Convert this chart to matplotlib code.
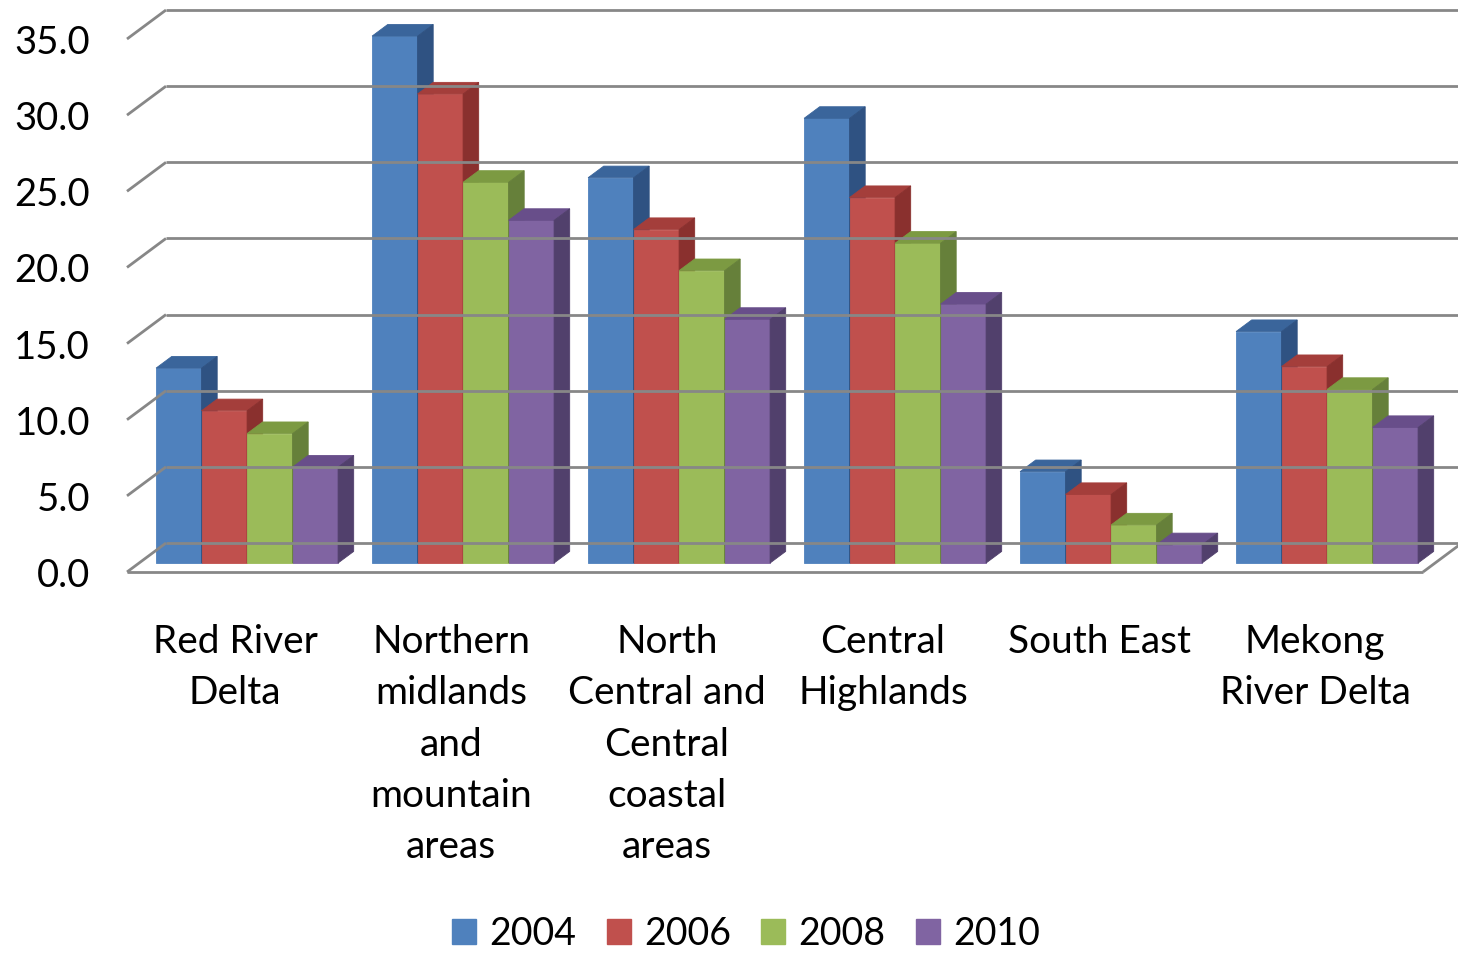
import matplotlib
matplotlib.use("Agg")
import matplotlib.pyplot as plt
from matplotlib.patches import Patch

regions = ["Red River\nDelta", "Northern\nmidlands\nand\nmountain\nareas",
           "North\nCentral and\nCentral\ncoastal\nareas", "Central\nHighlands",
           "South East", "Mekong\nRiver Delta"]
years = ["2004", "2006", "2008", "2010"]
v2004 = [12.8, 34.6, 25.3, 29.2, 6.0, 15.2]
v2006 = [10.0, 30.8, 21.9, 24.0, 4.5, 12.9]
v2008 = [8.5, 25.0, 19.2, 21.0, 2.5, 11.4]
v2010 = [6.3, 22.5, 16.0, 17.0, 1.2, 8.9]
yticks = [0, 5, 10, 15, 20, 25, 30, 35]

series = [v2004, v2006, v2008, v2010]
front = ["#4F81BD", "#C0504D", "#9BBB59", "#8064A2"]
top = ["#3A659B", "#A43E3B", "#7C9A42", "#684E8A"]
side = ["#2F5282", "#8A302E", "#66803A", "#51406C"]
GRID = "#878787"

W, H = 1458, 955
fig = plt.figure(figsize=(W / 100, H / 100), dpi=100)
ax = fig.add_axes([0, 0, 1, 1])
ax.axis("off")

# oblique "3d": front floor corner at pixel (127, 572), 216 px per category,
# 35 units over 533 px, full depth shifts 39 px right and 29 px up
s = 533 / 35
ax.set_xlim(-127 / 216, (W - 127) / 216)
ax.set_ylim((572 - H) / s, 572 / s)
DX, DY = 39 / 216, 29 / s


def proj(x, y, z):
    return x + DX * z, y + DY * z


def line3(p0, p1, **kw):
    a, b = proj(*p0), proj(*p1)
    ax.plot([a[0], b[0]], [a[1], b[1]], color=GRID, lw=2, solid_capstyle="butt", **kw)


n = len(regions)
# walls
for v in yticks:
    line3((0, v, 1), (n + 0.2, v, 1))
    line3((0, v, 0), (0, v, 1))
line3((0, 0, 0), (n, 0, 0))
line3((n, 0, 0), (n, 0, 1))

# bars
z0, z1 = 0.31, 0.71
bw = 45.5 / 216
pad = (1 - 4 * bw) / 2
for i in range(n):
    for j, vals in enumerate(series):
        x0 = i + pad + j * bw
        x1 = x0 + bw
        h = vals[i]
        faces = [
            ([(x0, 0, z0), (x1, 0, z0), (x1, h, z0), (x0, h, z0)], front[j]),
            ([(x0, h, z0), (x1, h, z0), (x1, h, z1), (x0, h, z1)], top[j]),
            ([(x1, 0, z0), (x1, 0, z1), (x1, h, z1), (x1, h, z0)], side[j]),
        ]
        for pts, c in faces:
            xy = [proj(*p) for p in pts]
            ax.fill([p[0] for p in xy], [p[1] for p in xy], color=c, lw=0.6, ec=c)

FONT = "Lato"
for v in yticks:
    ax.text(-37 / 216, v - 4 / s, f"{v:.1f}", ha="right", va="center", fontsize=27.5,
            family=FONT, color="black")

for i, lab in enumerate(regions):
    ax.text(i + 0.5, (572 - 624) / s, lab, ha="center", va="top", fontsize=28,
            family=FONT, linespacing=1.53)

handles = [Patch(color=c) for c in front]
fig.legend(handles, years, loc="center", bbox_to_anchor=(746 / W, (H - 934) / H),
           ncol=4, frameon=False, prop={"family": FONT, "size": 27},
           handlelength=0.65, handleheight=0.65, handletextpad=0.35,
           columnspacing=0.8, borderpad=0)

fig.savefig("out.png", dpi=100, facecolor="white")
